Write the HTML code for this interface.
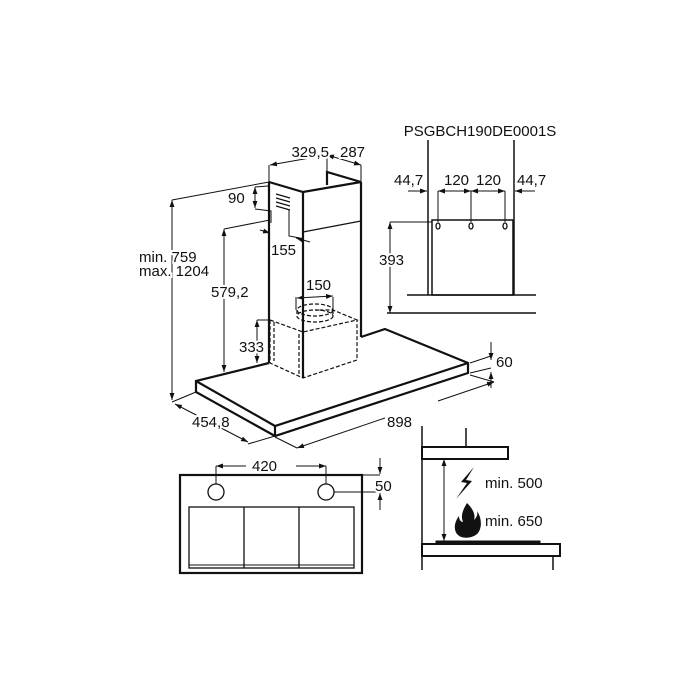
<!DOCTYPE html>
<html><head><style>
html,body{margin:0;padding:0;background:#fff}
svg{display:block}
text{font-family:"Liberation Sans",Arial,sans-serif;font-size:15px;fill:#111;paint-order:stroke;stroke:#fff;stroke-width:4px}
</style></head><body>
<svg width="700" height="700" viewBox="0 0 700 700" xmlns="http://www.w3.org/2000/svg">
<defs>
<marker id="a" viewBox="0 0 10 10" refX="10" refY="5" markerWidth="7" markerHeight="7" orient="auto-start-reverse"><path d="M0,1.5 L10,5 L0,8.5 Z" fill="#111"/></marker>
</defs>
<g fill="none" stroke="#111" stroke-width="1">
<g stroke-width="2.2">
<path d="M269,182 L303,192 L361,182"/>
<path d="M327,185 L327,172 L361,182"/>
<line x1="269" y1="182" x2="269" y2="363"/>
<line x1="303" y1="192" x2="303" y2="378"/>
<line x1="361" y1="182" x2="361" y2="337"/>
<path d="M269,363 L196,381 L196,392 L275,436 L468,373 L468,363 L385,329 L361,337"/>
<path d="M196,381 L275,426 L468,363"/>
<line x1="275" y1="426" x2="275" y2="436"/>
</g>
<path d="M303,232 L361,221" stroke-width="1.2"/>
<g stroke-width="1.2"><line x1="276" y1="194" x2="290" y2="198"/><line x1="276" y1="198" x2="290" y2="202"/><line x1="276" y1="202" x2="290" y2="206"/><line x1="276" y1="206" x2="290" y2="210"/></g>
<g stroke-dasharray="4,2" stroke-width="1.2">
<path d="M270,320 L303,332 L357,320 L333,310 L315,310"/>
<path d="M270,320 L270,363 L303,378 L357,360 L357,320"/>
<line x1="303" y1="332" x2="303" y2="378"/>
<path d="M274,322 L274,361 M299,334 L299,376"/>
<ellipse cx="315" cy="316" rx="18" ry="6"/>
<path d="M297,310 L297,316 M333,310 L333,316"/>
<ellipse cx="315" cy="310" rx="18" ry="6"/>
</g>
<line x1="269" y1="165" x2="269" y2="182"/><line x1="361" y1="165" x2="361" y2="182"/><line x1="327" y1="155" x2="327" y2="172"/>
<line x1="270" y1="165" x2="327" y2="155" marker-start="url(#a)" marker-end="url(#a)"/>
<line x1="327" y1="155" x2="361" y2="165" marker-start="url(#a)" marker-end="url(#a)"/>
<line x1="255" y1="187" x2="255" y2="208" marker-start="url(#a)" marker-end="url(#a)"/>
<path d="M255,187 L268,186 M255,209 L271,211 L271,223"/>
<line x1="260" y1="230" x2="270" y2="233" marker-end="url(#a)"/>
<line x1="310" y1="242" x2="296" y2="238" marker-end="url(#a)"/>
<path d="M289,210 L289,236 L300,238"/>
<line x1="172" y1="200" x2="269" y2="182"/>
<line x1="172" y1="200" x2="172" y2="400" marker-start="url(#a)" marker-end="url(#a)"/>
<line x1="224" y1="229" x2="270" y2="220"/>
<line x1="224" y1="229" x2="224" y2="372" marker-start="url(#a)" marker-end="url(#a)"/>
<line x1="257" y1="320" x2="270" y2="320"/>
<line x1="257" y1="320" x2="257" y2="363" marker-start="url(#a)" marker-end="url(#a)"/>
<path d="M296,297 L296,310 M333,297 L333,310"/>
<line x1="297" y1="298" x2="333" y2="296" marker-start="url(#a)" marker-end="url(#a)"/>
<line x1="491" y1="342" x2="491" y2="360" marker-end="url(#a)"/>
<line x1="491" y1="388" x2="491" y2="372" marker-end="url(#a)"/>
<path d="M470,363 L491,356 M470,373 L491,368"/>
<line x1="470" y1="375" x2="494" y2="382"/>
<line x1="196" y1="392" x2="172" y2="402"/>
<line x1="175" y1="404" x2="248" y2="442" marker-start="url(#a)" marker-end="url(#a)"/>
<line x1="248" y1="444" x2="275" y2="436"/>
<line x1="275" y1="437" x2="297" y2="448"/>
<line x1="297" y1="448" x2="385" y2="418" marker-start="url(#a)"/>
<line x1="438" y1="401" x2="494" y2="382" marker-end="url(#a)"/>
<line x1="428" y1="140" x2="428" y2="295" stroke-width="1.5"/>
<line x1="514" y1="140" x2="514" y2="295" stroke-width="1.5"/>
<rect x="432" y="220" width="81" height="75" stroke-width="1.5"/>
<line x1="407" y1="295" x2="536" y2="295" stroke-width="1.5"/>
<line x1="387" y1="313" x2="536" y2="313" stroke-width="1.5"/>
<line x1="390" y1="222" x2="432" y2="222"/>
<line x1="390" y1="222" x2="390" y2="313" marker-start="url(#a)" marker-end="url(#a)"/>
<line x1="408" y1="191" x2="427" y2="191" marker-end="url(#a)"/>
<line x1="535" y1="191" x2="515" y2="191" marker-end="url(#a)"/>
<path d="M438,191 L438,222 M471,191 L471,222 M505,191 L505,222"/>
<line x1="438" y1="191" x2="471" y2="191" marker-start="url(#a)" marker-end="url(#a)"/>
<line x1="471" y1="191" x2="505" y2="191" marker-start="url(#a)" marker-end="url(#a)"/>
<g stroke-width="1.3"><ellipse cx="438" cy="226" rx="2" ry="3"/><ellipse cx="471" cy="226" rx="2" ry="3"/><ellipse cx="505" cy="226" rx="2" ry="3"/></g>
<rect x="180" y="475" width="182" height="98" stroke-width="2.2"/>
<circle cx="216" cy="492" r="8" stroke-width="1.3"/><circle cx="326" cy="492" r="8" stroke-width="1.3"/>
<rect x="189" y="507" width="165" height="61" stroke-width="1.3"/>
<path d="M244,507 L244,568 M299,507 L299,568" stroke-width="1.3"/>
<line x1="189" y1="565" x2="354" y2="565"/>
<path d="M216,466 L216,484 M326,466 L326,484"/>
<line x1="216" y1="466" x2="246" y2="466" marker-start="url(#a)"/>
<line x1="296" y1="466" x2="326" y2="466" marker-end="url(#a)"/>
<path d="M362,475 L380,475 M334,492 L380,492"/>
<line x1="380" y1="458" x2="380" y2="474" marker-end="url(#a)"/>
<line x1="380" y1="510" x2="380" y2="493" marker-end="url(#a)"/>
<line x1="422" y1="426" x2="422" y2="570" stroke-width="1.5"/>
<line x1="466" y1="428" x2="466" y2="447" stroke-width="1.5"/>
<rect x="422" y="447" width="86" height="12" stroke-width="2"/>
<rect x="422" y="544" width="138" height="12" stroke-width="2"/>
<rect x="436" y="541" width="104" height="3" fill="#111"/>
<line x1="553" y1="556" x2="553" y2="570" stroke-width="1.5"/>
<line x1="444" y1="459" x2="444" y2="541" marker-start="url(#a)" marker-end="url(#a)"/>
</g>
<path d="M474,467 L461,482 L467,483 L456,499 L472,481 L466,480 Z" fill="#111"/>
<path d="M467,503 C472,508 476,514 474,520 C477,517 478,514 477,511 C482,518 482,528 478,533 C474,538 462,540 457,534 C453,529 455,521 459,516 C459,520 461,522 463,522 C460,515 464,508 467,503 Z" fill="#111"/>
<text x="480" y="136" text-anchor="middle">PSGBCH190DE0001S</text>
<text x="329" y="157" text-anchor="end">329,5</text>
<text x="340" y="157">287</text>
<text x="228" y="203">90</text>
<text x="271" y="255">155</text>
<text x="139" y="262">min. 759</text>
<text x="139" y="276">max. 1204</text>
<text x="211" y="297">579,2</text>
<text x="306" y="290">150</text>
<text x="239" y="352">333</text>
<text x="496" y="367">60</text>
<text x="192" y="427">454,8</text>
<text x="387" y="427">898</text>
<text x="394" y="185">44,7</text>
<text x="444" y="185">120</text>
<text x="476" y="185">120</text>
<text x="517" y="185">44,7</text>
<text x="379" y="265">393</text>
<text x="252" y="471">420</text>
<text x="375" y="491">50</text>
<text x="485" y="488">min. 500</text>
<text x="485" y="526">min. 650</text>
</svg>
</body></html>
